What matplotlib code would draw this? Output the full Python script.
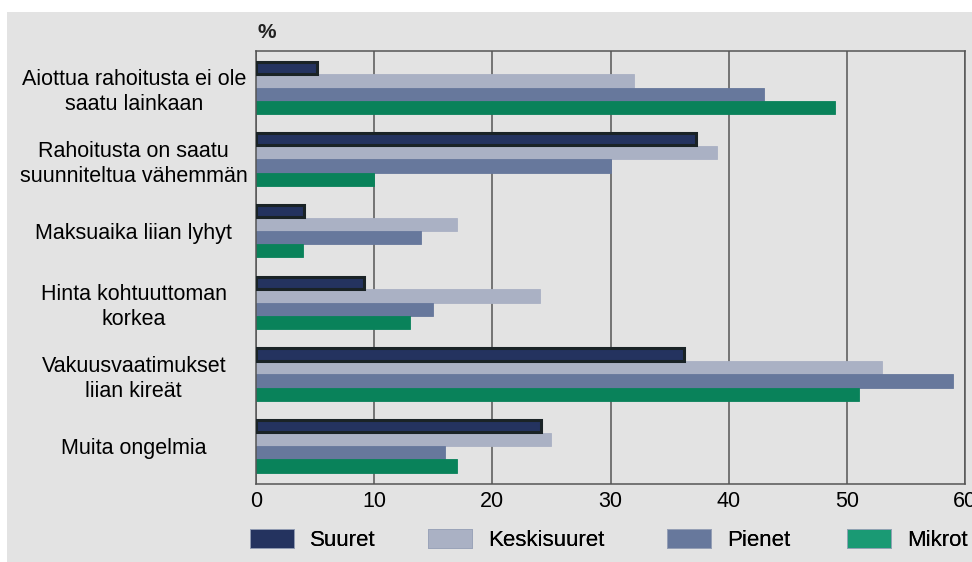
import matplotlib.pyplot as plt
from matplotlib.patches import Rectangle, Patch
import numpy as np

plt.rcParams['font.family'] = ['Liberation Sans', 'DejaVu Sans']

categories = [
    'Aiottua rahoitusta ei ole\nsaatu lainkaan',
    'Rahoitusta on saatu\nsuunniteltua vähemmän',
    'Maksuaika liian lyhyt',
    'Hinta kohtuuttoman\nkorkea',
    'Vakuusvaatimukset\nliian kireät',
    'Muita ongelmia',
]
suuret = [5.2, 37.2, 4.1, 9.1, 36.2, 24.1]
keskisuuret = [32, 39, 17, 24, 53, 25]
pienet = [43, 30, 14, 15, 59, 16]
mikrot = [49, 10, 4, 13, 51, 17]
series_names = ['Suuret', 'Keskisuuret', 'Pienet', 'Mikrot']
xticks = [0, 10, 20, 30, 40, 50, 60]

bg = '#e3e3e3'
colors = ['#24335f', '#aab1c4', '#67789c', '#09825a']
legend_colors = ['#24335f', '#aab1c4', '#67789c', '#1a9a74']

fig = plt.figure(figsize=(9.72, 5.62), dpi=100, facecolor='white')
fig.patches.append(Rectangle((7 / 972, 0), 1, 1 - 12 / 562, transform=fig.transFigure,
                             facecolor=bg, edgecolor='none', zorder=-10))
ax = fig.add_axes([256 / 972, 1 - 484 / 562, 709 / 972, 433 / 562])
ax.set_facecolor(bg)

y = np.arange(len(categories))
h = 0.185
data = [suuret, keskisuuret, pienet, mikrot]
for i, vals in enumerate(data):
    off = (i - 1.5) * h
    if i == 0:
        ax.barh(y + off, vals, height=h * 0.92, color=colors[i], edgecolor='#1a2326',
                linewidth=2.2, zorder=3)
    else:
        ax.barh(y + off, vals, height=h, color=colors[i], edgecolor=colors[i],
                linewidth=0.6, zorder=2)

ax.set_xlim(0, 60)
ax.set_ylim(5.53, -0.51)
ax.set_xticks(xticks)
ax.set_xticklabels([str(t) for t in xticks], fontsize=15.5)
ax.tick_params(axis='x', length=0, pad=5)
ax.set_yticks(y)
ax.set_yticklabels(categories, fontsize=15.5, ha='center', multialignment='center',
                   linespacing=1.25)
ax.tick_params(axis='y', length=0, pad=88)
ax.grid(axis='x', color='#555555', linewidth=1.1, zorder=0)
ax.set_axisbelow(True)
for s in ['top', 'bottom', 'left', 'right']:
    ax.spines[s].set_color('#555555')
    ax.spines[s].set_linewidth(1.1)

fig.text(257 / 972, 1 - 33 / 562, '%', fontsize=15, fontweight='bold', ha='left', va='center',
         color='#222222')

# legend entries are spaced unevenly in the reference, so one legend per entry
patch_left = [250, 428, 667, 847]
label_dy = [0, 4, 0, -6]
for i in range(4):
    leg = fig.legend([Patch(facecolor=legend_colors[i], edgecolor='#9aa3b8', linewidth=0.6)],
                     [series_names[i]], loc='center left',
                     bbox_to_anchor=(patch_left[i] / 972, 1 - (540 + label_dy[i] * 0) / 562),
                     frameon=False, fontsize=16, handlelength=1.98, handleheight=0.9,
                     handletextpad=0.72, borderpad=0, borderaxespad=0)
    fig.add_artist(leg)

fig.savefig('out.png', dpi=100, facecolor='white')
